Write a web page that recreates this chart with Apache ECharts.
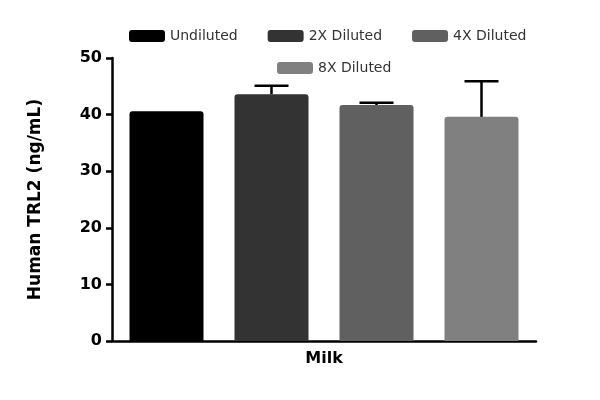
<!DOCTYPE html>
<html lang="en">
<head>
    <meta charset="UTF-8">
    <title>Human TRL2</title>
    <style>
        html, body { margin: 0; }
        #main { width: 600px; height: 400px; }
    </style>
</head>
<body>
<div id="main"></div>
<script src="https://cdn.jsdelivr.net/npm/echarts@6/dist/echarts.min.js"></script>
<script>
    const categories = ['Milk'];
    const seriesNames = ['Undiluted', '2X Diluted', '4X Diluted', '8X Diluted'];
    const means = [40.6, 43.6, 41.7, 39.6];
    const errors = [0, 1.5, 0.4, 6.3];
    const colors = ['#000000', '#333333', '#606060', '#808080'];

    const BAR_W = 74, GAP = 31;
    const myChart = echarts.init(document.getElementById('main'));

    const series = seriesNames.map((name, i) => ({
        name: name,
        type: 'bar',
        data: [means[i]],
        barWidth: BAR_W,
        barGap: (GAP / BAR_W * 100) + '%',
        itemStyle: { color: colors[i], borderRadius: [3, 3, 0, 0] }
    }));

    // error bars (upper only), drawn on top of bars
    series.push({
        type: 'custom',
        z: 10,
        data: means.map((m, i) => [i, m, m + errors[i]]),
        renderItem: function (params, api) {
            const i = api.value(0);
            if (!errors[i]) return;
            const base = api.coord(['Milk', api.value(1)]);
            const top = api.coord(['Milk', api.value(2)]);
            const x = base[0] + (i - 1.5) * (BAR_W + GAP);
            const style = { stroke: '#000', lineWidth: 2.5 };
            return {
                type: 'group',
                children: [
                    { type: 'line', shape: { x1: x, y1: base[1], x2: x, y2: top[1] }, style: style },
                    { type: 'line', shape: { x1: x - 17, y1: top[1], x2: x + 17, y2: top[1] }, style: style }
                ]
            };
        }
    });

    const legendBase = {
        itemWidth: 36, itemHeight: 12, itemGap: 30,
        icon: 'roundRect',
        textStyle: { color: '#333', fontSize: 14, fontFamily: 'DejaVu Sans' }
    };

    myChart.setOption({
        animation: false,
        legend: [
            Object.assign({ data: seriesNames.slice(0, 3), top: 24, left: 124 }, legendBase),
            Object.assign({ data: seriesNames.slice(3), top: 56, left: 272 }, legendBase)
        ],
        grid: { left: 112, right: 64, top: 58, bottom: 59 },
        xAxis: {
            type: 'category',
            data: categories,
            axisLine: { lineStyle: { color: '#000', width: 2.5 } },
            axisTick: { alignWithLabel: true, length: 6, lineStyle: { width: 2.5, color: '#000' } },
            axisLabel: { color: '#000', fontWeight: 'bold', fontSize: 16, margin: 10, fontFamily: 'DejaVu Sans' }
        },
        yAxis: {
            type: 'value',
            min: 0, max: 50, interval: 10,
            name: 'Human TRL2 (ng/mL)',
            nameLocation: 'middle',
            nameGap: 68,
            nameTextStyle: { color: '#000', fontWeight: 'bold', fontSize: 17, fontFamily: 'DejaVu Sans' },
            splitLine: { show: false },
            axisLine: { show: true, lineStyle: { color: '#000', width: 2.5 } },
            axisTick: { show: true, length: 6, lineStyle: { width: 2.5, color: '#000' } },
            axisLabel: { color: '#000', fontWeight: 'bold', fontSize: 16, margin: 10, fontFamily: 'DejaVu Sans' }
        },
        series: series
    });
</script>
</body>
</html>
